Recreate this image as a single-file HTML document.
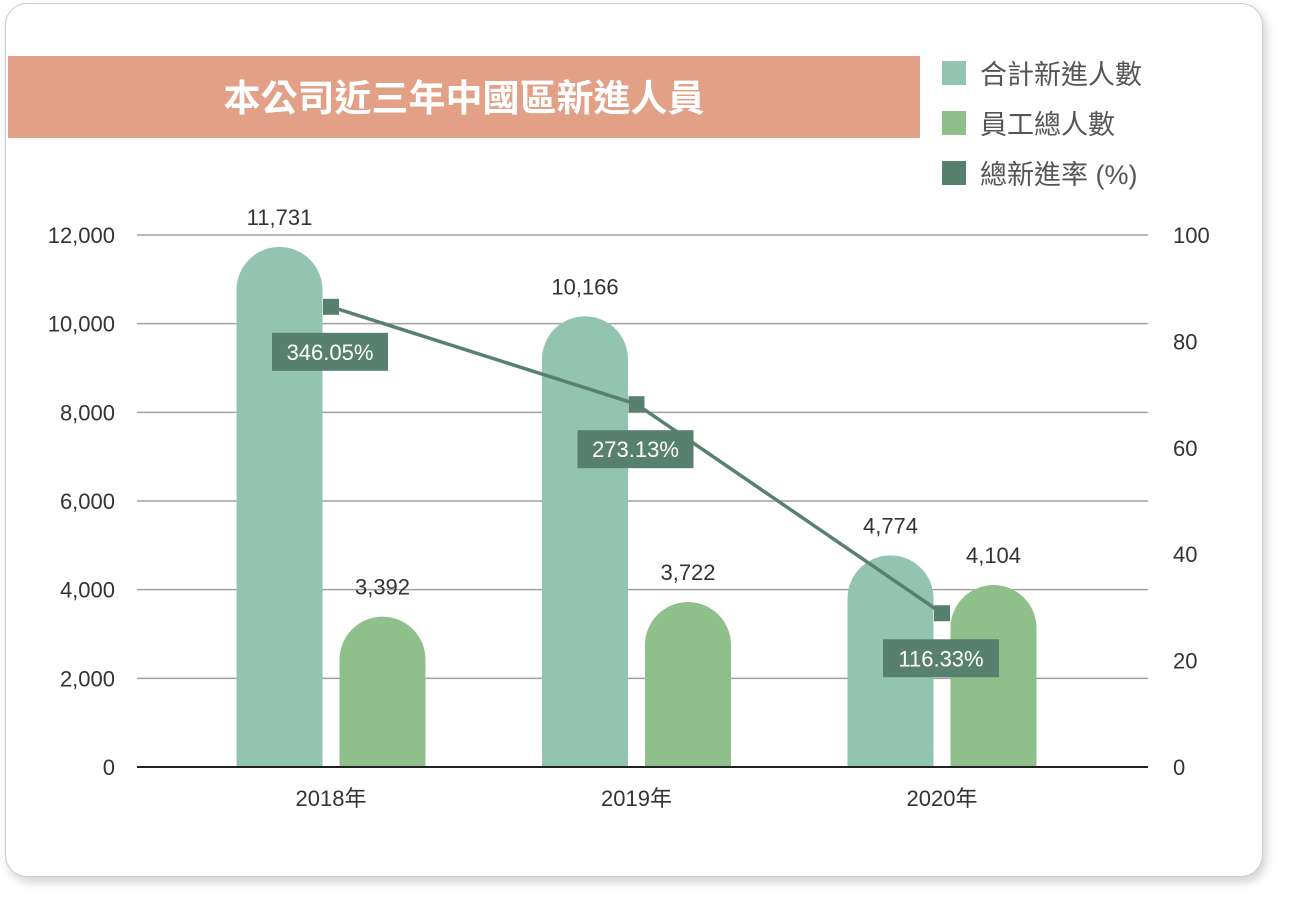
<!DOCTYPE html>
<html><head><meta charset="utf-8">
<style>
body{margin:0;background:#fff;width:1299px;height:914px;overflow:hidden;font-family:"Liberation Sans","Noto Sans CJK TC",sans-serif;}
#card{position:absolute;left:5px;top:3px;width:1256px;height:872px;border:1px solid #ccc;border-radius:22px;box-shadow:3px 5px 10px rgba(0,0,0,0.18);background:#fff;}
</style></head><body>
<div id="card"></div>
<svg id="chart" width="1299" height="914" style="position:absolute;left:0;top:0" font-family="'Liberation Sans','Noto Sans CJK TC',sans-serif">
<rect x="8" y="56" width="912" height="82" fill="#e2a086"/>
<text x="464" y="111" text-anchor="middle" font-size="37" font-weight="bold" fill="#fff">本公司近三年中國區新進人員</text>
<g>
<rect x="942" y="61" width="24" height="24" fill="#93c4b1"/>
<text x="980" y="84" font-size="27" fill="#555">合計新進人數</text>
<rect x="942" y="111" width="24" height="24" fill="#8fbf8a"/>
<text x="980" y="134" font-size="27" fill="#555">員工總人數</text>
<rect x="942" y="161" width="24" height="24" fill="#58806f"/>
<text x="980" y="184" font-size="27" fill="#555">總新進率 (%)</text>
</g>
<g id="plot"></g>
</svg>
<script>
const categories=["2018年","2019年","2020年"];
const newHires=[11731,10166,4774];
const employees=[3392,3722,4104];
const rates=[86.5,68.2,28.9];
const rateLabels=["346.05%","273.13%","116.33%"];
const leftTicks=[0,2000,4000,6000,8000,10000,12000];
const rightTicks=[0,20,40,60,80,100];

const NS="http://www.w3.org/2000/svg";
const plot=document.getElementById("plot");
const L=137,R=1148,T=235,B=767;
const yL=v=>B-(v/12000)*(B-T);
const yR=v=>B-(v/100)*(B-T);
const xC=i=>331+i*305.5;
const fmt=n=>n.toLocaleString("en-US");
function mk(tag,attrs){const e=document.createElementNS(NS,tag);for(const k in attrs)e.setAttribute(k,attrs[k]);plot.appendChild(e);return e;}

leftTicks.forEach(t=>{
  if(t>0){const g=mk("line",{x1:L,x2:R,y1:yL(t),y2:yL(t),stroke:"#a0a0a0","stroke-width":1.5});
  
  }
  const tx=mk("text",{x:115,y:yL(t)+8,"text-anchor":"end","font-size":22,fill:"#333"});
  tx.textContent=fmt(t);
  
  
});
rightTicks.forEach(t=>{
  const tx=mk("text",{x:1173,y:yR(t)+8,"font-size":22,fill:"#333"});
  tx.textContent=t;
  
  
});
function bar(cx,v,color,name){
  const w=86,r=43,x=cx-w/2,y=yL(v);
  const d=`M${x},${B} L${x},${y+r} A${r},${r} 0 0 1 ${x+w},${y+r} L${x+w},${B} Z`;
  const p=mk("path",{d:d,fill:color});
  
  
  const t=mk("text",{x:cx,y:y-22,"text-anchor":"middle","font-size":22,fill:"#333"});
  t.textContent=fmt(v);
  
  
}
categories.forEach((c,i)=>{
  const cx=xC(i);
  bar(cx-51.5,newHires[i],"#93c4b1","bar-new-hires-"+i);
  bar(cx+51.5,employees[i],"#8fbf8a","bar-employees-"+i);
  const t=mk("text",{x:cx,y:806,"text-anchor":"middle","font-size":22,fill:"#333"});
  t.textContent=c;
  
  
});
const ax=mk("line",{x1:L,x2:R,y1:B,y2:B,stroke:"#222","stroke-width":2});


const pts=rates.map((r,i)=>[xC(i)+0,yR(r)]);
const ln=mk("polyline",{points:pts.map(p=>p.join(",")).join(" "),fill:"none",stroke:"#58806f","stroke-width":3.5});


pts.forEach((p,i)=>{
  const m=mk("rect",{x:p[0]-8,y:p[1]-8,width:16,height:16,fill:"#58806f"});
  
  
  const bx=mk("rect",{x:p[0]-59,y:p[1]+26,width:116,height:38,fill:"#58806f"});
  
  
  const t=mk("text",{x:p[0]-1,y:p[1]+53,"text-anchor":"middle","font-size":22,fill:"#fff"});
  t.textContent=rateLabels[i];
  
  
});
</script>
</body></html>
